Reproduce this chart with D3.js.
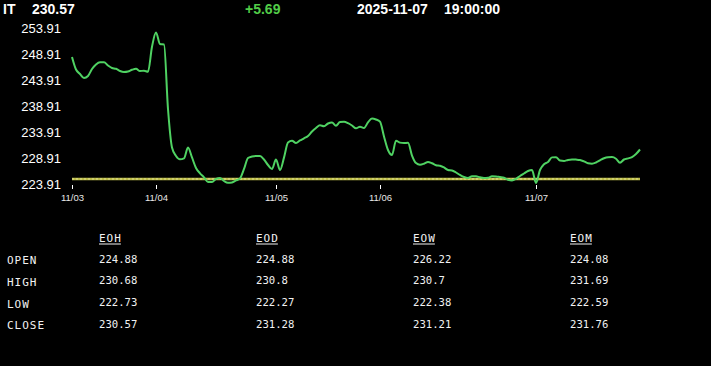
<!DOCTYPE html>
<html><head><meta charset="utf-8">
<script src="https://cdn.jsdelivr.net/npm/d3@7/dist/d3.min.js"></script>
<style>
html,body{margin:0;padding:0;background:#000;overflow:hidden;}
svg{display:block;}
</style></head>
<body>
<svg id="c" width="711" height="366"></svg>
<script>
// ---- data ----
const symbol = "IT";
const lastPrice = 230.57;
const change = 5.69;
const dateText = "2025-11-07";
const timeText = "19:00:00";
const prevClose = 224.88;

const prices = [
248.43,246.01,245.15,244.37,244.76,246.11,246.98,247.40,247.40,246.79,
246.30,246.15,245.72,245.53,245.63,245.96,246.15,245.72,245.78,245.59,
250.40,253.16,250.94,250.84,238.39,230.96,229.32,228.68,228.87,230.96,
229.03,227.00,225.98,225.20,224.30,224.30,224.88,225.07,224.49,224.16,
224.22,224.59,225.01,226.81,228.93,229.22,229.32,229.32,228.64,227.58,
226.80,228.64,226.60,229.00,231.92,232.25,231.83,232.31,232.73,233.18,
234.05,234.72,235.24,235.05,235.59,235.78,235.16,235.88,235.92,235.65,
235.20,234.66,234.97,234.72,235.82,236.54,236.36,235.94,233.08,230.47,
229.51,232.25,231.90,231.81,231.88,229.41,227.96,227.64,227.83,228.16,
227.91,227.54,227.42,227.10,226.61,226.52,226.13,225.65,225.26,225.07,
225.42,225.40,225.20,225.07,225.11,225.40,225.38,225.26,225.13,224.72,
224.59,224.91,225.45,225.94,226.42,226.61,224.10,226.61,227.73,228.16,
229.05,229.08,228.43,228.35,228.56,228.66,228.62,228.54,228.27,227.91,
227.83,228.06,228.49,228.89,229.08,229.10,228.79,228.02,228.64,228.85,
229.12,229.70,230.57
];

const yTicks = [223.91, 228.91, 233.91, 238.91, 243.91, 248.91, 253.91];
const xTickIdx = [0, 21, 51, 77, 116];
const xTickLabels = ["11/03", "11/04", "11/05", "11/06", "11/07"];

const tableCols = ["EOH", "EOD", "EOW", "EOM"];
const tableRows = ["OPEN", "HIGH", "LOW", "CLOSE"];
const eohVals = [224.88, 230.68, 222.73, 230.57];
const eodVals = [224.88, 230.8, 222.27, 231.28];
const eowVals = [226.22, 230.7, 222.38, 231.21];
const eomVals = [224.08, 231.69, 222.59, 231.76];

// ---- drawing ----
const svg = d3.select("#c");
svg.append("rect").attr("width", 711).attr("height", 366).attr("fill", "#000");

const x = d3.scaleLinear().domain([0, prices.length - 1]).range([72, 640]);
const y = d3.scaleLinear().domain([223.91, 253.91]).range([184, 28.6]);

// header
const hdr = svg.append("g").attr("font-family", "'Liberation Sans', Arial, sans-serif")
  .attr("font-weight", "bold").attr("font-size", 14).attr("fill", "#fff");
hdr.append("text").attr("x", 3).attr("y", 14).text(symbol);
hdr.append("text").attr("x", 32).attr("y", 14).text(lastPrice.toFixed(2));
hdr.append("text").attr("x", 245).attr("y", 14).attr("fill", "#52cc48")
  .text((change >= 0 ? "+" : "") + change.toFixed(2));
hdr.append("text").attr("x", 357).attr("y", 14).text(dateText);
hdr.append("text").attr("x", 444).attr("y", 14).text(timeText);

// y axis labels
const yAxis = svg.append("g").attr("transform", "translate(61,0)")
  .call(d3.axisLeft(y).tickValues(yTicks).tickFormat(d3.format(".2f")).tickSize(0).tickPadding(0));
yAxis.select(".domain").remove();
yAxis.selectAll("text").attr("fill", "#fff").attr("font-size", 13)
  .attr("font-family", "'Liberation Sans', Arial, sans-serif");

// x axis
const xAxis = svg.append("g").attr("transform", "translate(0,185)")
  .call(d3.axisBottom(x).tickValues(xTickIdx).tickFormat((d, i) => xTickLabels[i]).tickSize(4).tickPadding(5));
xAxis.select(".domain").remove();
xAxis.selectAll("line").attr("stroke", "#fff");
xAxis.selectAll("text").attr("fill", "#e8e8e8").attr("font-size", 9.5)
  .attr("font-family", "'Liberation Sans', Arial, sans-serif");

// previous close reference line
svg.append("line").attr("x1", x(0)).attr("x2", x(prices.length - 1))
  .attr("y1", y(prevClose)).attr("y2", y(prevClose))
  .attr("stroke", "#bcbc48").attr("stroke-width", 2.5);
svg.append("line").attr("x1", x(0)).attr("x2", x(prices.length - 1))
  .attr("y1", y(prevClose)).attr("y2", y(prevClose))
  .attr("stroke", "#eaeaa8").attr("stroke-width", 0.8).attr("stroke-dasharray", "2,2");

// price line
const line = d3.line().x((d, i) => x(i)).y(d => y(d)).curve(d3.curveMonotoneX);
svg.append("path").datum(prices).attr("d", line)
  .attr("fill", "none").attr("stroke", "#4fd262").attr("stroke-width", 2)
  .attr("stroke-linejoin", "round");

// table
const colX = d3.scaleLinear().domain([0, tableCols.length - 1]).range([99, 570]);
const rowY = d3.scaleLinear().domain([0, tableRows.length - 1]).range([262.5, 327.8]);
const colVals = [eohVals, eodVals, eowVals, eomVals];
const tbl = svg.append("g").attr("font-family", "'DejaVu Sans Mono', monospace").attr("fill", "#f2f2f2");

tableCols.forEach((c, j) => {
  const t = tbl.append("text").attr("x", colX(j)).attr("y", 241.5)
    .attr("font-size", 11).attr("letter-spacing", 1).text(c);
  const w = t.node().getComputedTextLength();
  tbl.append("line").attr("x1", colX(j)).attr("x2", colX(j) + w - 1)
    .attr("y1", 244).attr("y2", 244).attr("stroke", "#f2f2f2").attr("stroke-width", 1);
  colVals[j].forEach((v, r) => {
    tbl.append("text").attr("x", colX(j)).attr("y", rowY(r))
      .attr("font-size", 10.6).text(String(v));
  });
});
tableRows.forEach((r, i) => {
  tbl.append("text").attr("x", 7).attr("y", rowY(i) + 1.6)
    .attr("font-size", 11).attr("letter-spacing", 1).text(r);
});
</script>
</body></html>
